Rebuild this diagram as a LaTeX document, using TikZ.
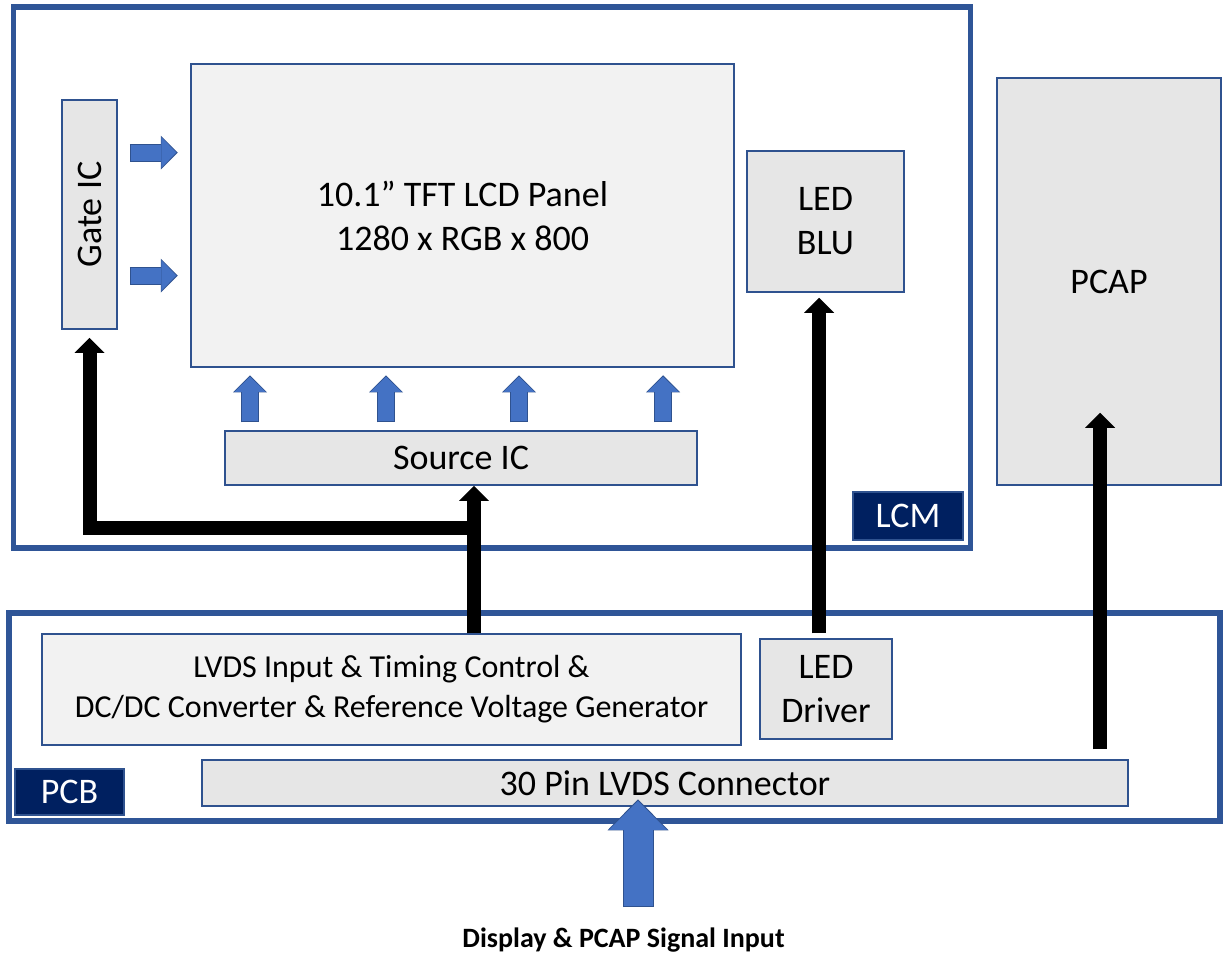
\documentclass[tikz,border=0pt]{standalone}
\usepackage{fontspec}
\setmainfont{Carlito}
\usepackage{graphicx}
\usetikzlibrary{arrows.meta}
\definecolor{frameblue}{RGB}{47,85,151}
\definecolor{boxline}{RGB}{47,82,143}
\definecolor{arrowblue}{RGB}{68,114,196}
\definecolor{navy}{RGB}{0,32,96}
\definecolor{lightfill}{RGB}{242,242,242}
\definecolor{grayfill}{RGB}{230,230,230}
\begin{document}
\begin{tikzpicture}[x=1pt,y=-1pt,
  frame/.style={draw=frameblue, line width=5.5pt, inner sep=0pt},
  box/.style={draw=boxline, line width=1.5pt, fill=grayfill, inner sep=0pt, align=center, font=\fontsize{36}{44}\selectfont},
  panelbox/.style={box, fill=lightfill},
  tag/.style={draw=boxline, line width=1.5pt, fill=navy, text=white, inner sep=0pt, font=\fontsize{36}{44}\selectfont},
  blk/.style={line width=14pt, draw=black, line join=miter, -{Triangle[width=30pt,length=15pt,line width=0pt]}},
  bluearr/.style={line width=16pt, draw=arrowblue,
    -{Triangle[width=31pt,length=15pt,line width=0pt]},
    preaction={draw=boxline, line width=18pt, -{Triangle[width=34pt,length=17pt,line width=0pt]}, shorten >=-1.5pt, shorten <=-1pt}},
  bigarr/.style={line width=29pt, draw=arrowblue,
    -{Triangle[width=58pt,length=29pt,line width=0pt]},
    preaction={draw=boxline, line width=31pt, -{Triangle[width=61pt,length=31pt,line width=0pt]}, shorten >=-1.5pt, shorten <=-1pt}},
  ]
\useasboundingbox (0,0) rectangle (1223,956);

% frames
\node[frame, minimum width=957pt, minimum height=541pt] (lcm) at (492,277.35) {};
\node[frame, minimum width=1211pt, minimum height=208pt] (pcb) at (614.5,717) {};

% LCM contents
\node[panelbox, minimum width=543pt, minimum height=303pt] (panel) at (462.5,215.5) {10.1” TFT LCD Panel\\1280 x RGB x 800};
\node[box, minimum width=55pt, minimum height=229pt] (gate) at (89.5,214.5) {\rotatebox{90}{Gate IC}};
\node[box, minimum width=472pt, minimum height=54pt] (src) at (461,458) {Source IC};
\node[box, minimum width=157pt, minimum height=141pt] (blu) at (825.5,221.5) {LED\\BLU};
\node[tag, minimum width=110pt, minimum height=48pt] (lcmtag) at (908,516) {LCM};

% PCAP
\node[box, minimum width=224pt, minimum height=407pt] (pcap) at (1109,281.5) {PCAP};

% PCB contents
\node[panelbox, minimum width=699pt, minimum height=111pt, font=\fontsize{32}{40}\selectfont] (lvds) at (391.5,689.5) {LVDS Input \& Timing Control \&\\DC/DC Converter \& Reference Voltage Generator};
\node[box, minimum width=132pt, minimum height=100pt] (drv) at (826,689) {LED\\Driver};
\node[box, minimum width=926pt, minimum height=46pt] (conn) at (665,783) {30 Pin LVDS Connector};
\node[tag, minimum width=109pt, minimum height=46pt] (pcbtag) at (69.5,792) {PCB};

% input label
\node[font=\fontsize{28}{34}\selectfont\bfseries, inner sep=0pt] (input) at (623.5,940) {Display \& PCAP Signal Input};

% blue arrows gate -> panel
\foreach \dy in {62,-61}
  \draw[bluearr] ([xshift=13pt,yshift=\dy pt]gate.east) -- ([xshift=-14pt,yshift=\dy pt]gate.east -| panel.west);

% blue arrows source -> panel
\foreach \dx in {-211,-75,58,202}
  \draw[bluearr] ([xshift=\dx pt,yshift=9pt]src.north) -- ([xshift=\dx pt,yshift=-9pt]src.north |- panel.south);

% black arrows
\coordinate (jx) at (474,528);
\draw[blk] (jx |- lvds.north) -- (jx |- src.south);
\draw[blk] (jx) -- (gate.south |- jx) -- ([yshift=-8pt]gate.south);
\draw[blk] ([xshift=-7pt,yshift=5pt]drv.north) -- ([xshift=-7pt,yshift=-5pt]drv.north |- blu.south);
\draw[blk] ([xshift=-9pt,yshift=10pt]conn.north -| pcap.south) -- ([xshift=-9pt,yshift=73pt]pcap.south);

% input arrow
\coordinate (inp) at (638,906);
\draw[bigarr] (inp) -- ([yshift=6pt]conn.south -| inp);
\end{tikzpicture}
\end{document}
